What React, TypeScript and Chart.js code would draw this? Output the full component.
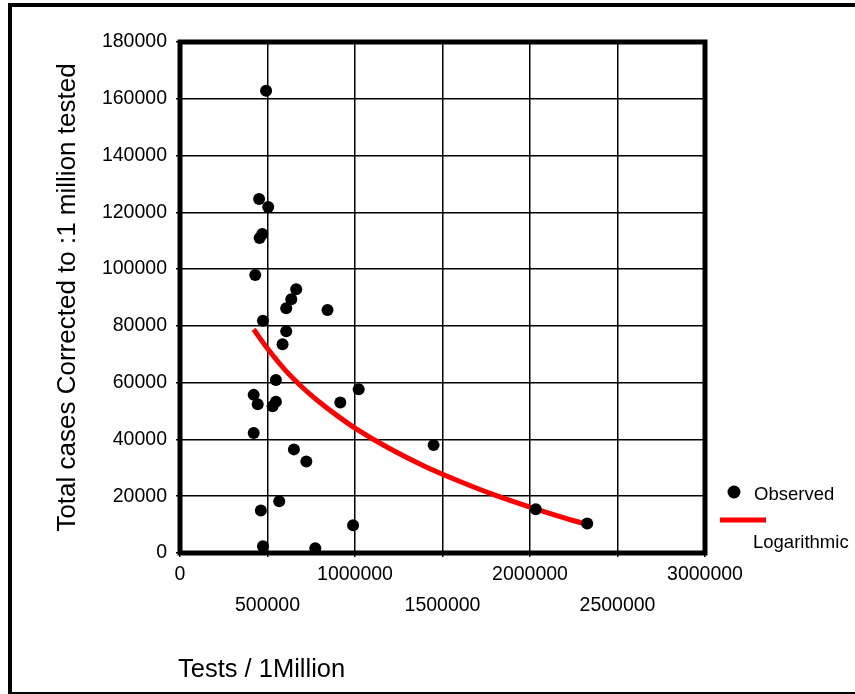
import React, { useEffect, useRef } from "react";
import { Chart, registerables } from "chart.js";

Chart.register(...registerables);

const xObserved = [492000, 452000, 504000, 455000, 470000, 430000, 664000, 636000, 607000, 843000, 474000, 607000, 586000, 548000, 1021000, 421000, 444000, 548000, 529000, 916000, 421000, 651000, 722000, 567000, 462000, 989000, 474000, 773000, 1449000, 2033000, 2327000];
const yObserved = [162800, 124700, 121900, 111000, 112400, 97900, 92900, 89400, 86200, 85600, 81800, 78100, 73500, 60900, 57700, 55700, 52400, 53300, 51700, 53000, 42300, 36500, 32200, 18200, 15000, 9800, 2400, 1700, 38000, 15400, 10400];

const xLog = [421000, 500000, 600000, 700000, 800000, 900000, 1000000, 1200000, 1400000, 1600000, 1800000, 2000000, 2200000, 2300000];
const yLog = [78800, 72000, 64500, 58300, 53000, 48300, 44000, 36700, 30500, 25200, 20400, 16200, 12300, 10500];

const seriesNames = ["Observed", "Logarithmic"];
const xTitle = "Tests / 1Million";
const yTitle = "Total cases Corrected to :1 million tested";

const FONT = "'Liberation Sans', Arial, sans-serif";

export default function App() {
  const ref = useRef<HTMLCanvasElement | null>(null);

  useEffect(() => {
    if (!ref.current) return;
    const decor = {
      id: "decor",
      beforeDatasetsDraw(chart: any) {
        const { ctx, chartArea: a } = chart;
        ctx.save();
        ctx.strokeStyle = "#000";
        ctx.lineWidth = 5;
        ctx.strokeRect(a.left, a.top, a.right - a.left, a.bottom - a.top);
        ctx.restore();
      },
      afterDraw(chart: any) {
        const { ctx, chartArea: a } = chart;
        ctx.save();
        // outer frame
        ctx.fillStyle = "#000";
        ctx.fillRect(8, 3, 4, 691);
        ctx.fillRect(8, 3, 847, 4);
        ctx.fillRect(8, 692, 847, 4);
        // axis titles
        ctx.fillStyle = "#000";
        ctx.font = `25.5px ${FONT}`;
        ctx.textAlign = "left";
        ctx.textBaseline = "alphabetic";
        ctx.fillText(xTitle, 178, 677);
        ctx.font = `26px ${FONT}`;
        ctx.translate(68, (a.top + a.bottom) / 2);
        ctx.rotate(-Math.PI / 2);
        ctx.textAlign = "center";
        ctx.textBaseline = "middle";
        ctx.fillText(yTitle, 0, 0);
        ctx.restore();
        // legend
        ctx.save();
        ctx.fillStyle = "#000";
        ctx.beginPath();
        ctx.arc(734, 492, 6.5, 0, Math.PI * 2);
        ctx.fill();
        ctx.font = `18.5px ${FONT}`;
        ctx.textAlign = "left";
        ctx.textBaseline = "middle";
        ctx.fillText(seriesNames[0], 754, 495);
        ctx.strokeStyle = "#ff0000";
        ctx.lineWidth = 5;
        ctx.beginPath();
        ctx.moveTo(720, 520);
        ctx.lineTo(766, 520);
        ctx.stroke();
        ctx.fillStyle = "#000";
        ctx.fillText(seriesNames[1], 753, 543);
        ctx.restore();
      },
    };

    const chart = new Chart(ref.current, {
      type: "scatter",
      data: {
        datasets: [
          {
            label: seriesNames[1],
            data: xLog.map((x, i) => ({ x, y: yLog[i] })),
            showLine: true,
            borderColor: "#ff0000",
            borderWidth: 5,
            pointRadius: 0,
            cubicInterpolationMode: "monotone",
            order: 2,
          },
          {
            label: seriesNames[0],
            data: xObserved.map((x, i) => ({ x, y: yObserved[i] })),
            backgroundColor: "#000",
            borderColor: "#000",
            borderWidth: 0,
            pointRadius: 6,
            pointHoverRadius: 6,
            order: 1,
          },
        ],
      },
      options: {
        animation: false,
        responsive: false,
        events: [],
        layout: { padding: { left: 0, top: 42, right: 150, bottom: 0 } },
        plugins: { legend: { display: false }, tooltip: { enabled: false } },
        scales: {
          x: {
            type: "linear",
            min: 0,
            max: 3000000,
            afterFit: (s: any) => {
              s.height = 141;
            },
            border: { display: false },
            grid: { color: "#000", lineWidth: 1.5, tickLength: 4 },
            ticks: {
              stepSize: 500000,
              autoSkip: false,
              maxRotation: 0,
              padding: 2,
              color: "#000",
              font: { family: FONT, size: 19.5, lineHeight: 1.59 },
              callback: (v: any, i: number) => (i % 2 === 1 ? ["", String(v)] : String(v)),
            },
          },
          y: {
            type: "linear",
            min: 0,
            max: 180000,
            afterFit: (s: any) => {
              s.width = 180;
            },
            border: { display: false },
            grid: { color: "#000", lineWidth: 1.5, tickLength: 4 },
            ticks: {
              stepSize: 20000,
              autoSkip: false,
              padding: 9,
              color: "#000",
              font: { family: FONT, size: 19.5 },
              callback: (v: any) => String(v),
            },
          },
        },
      },
      plugins: [decor],
    } as any);
    return () => chart.destroy();
  }, []);

  return (
    <div style={{ position: "absolute", left: 0, top: 0, width: 855, height: 694, background: "#fff" }}>
      <canvas ref={ref} width={855} height={694} style={{ display: "block" }} />
    </div>
  );
}
